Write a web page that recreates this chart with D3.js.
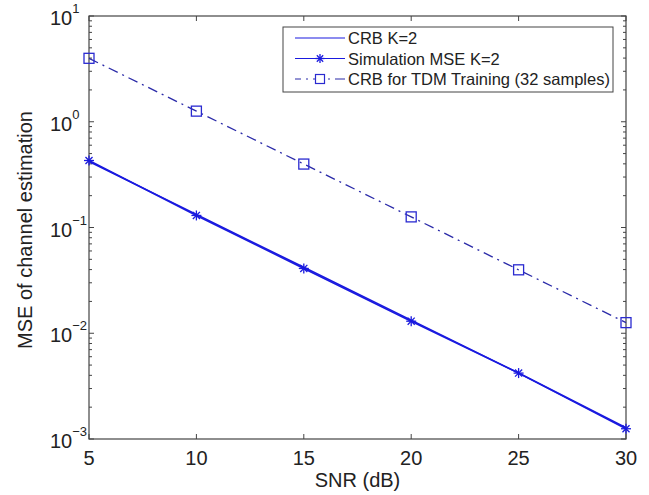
<!DOCTYPE html>
<html><head><meta charset="utf-8">
<script src="https://cdn.jsdelivr.net/npm/d3@7"></script>
<style>body{margin:0;background:#fff;} text{font-family:"Liberation Sans",Arial,sans-serif;}</style>
</head><body>
<svg id="c" width="649" height="495"></svg>
<script>
const snr = [5, 10, 15, 20, 25, 30];
const crbK2 = [0.42, 0.133, 0.042, 0.0133, 0.0042, 0.00128];
const simK2 = [0.43, 0.13, 0.041, 0.013, 0.0042, 0.00125];
const crbTDM = [3.98, 1.26, 0.398, 0.126, 0.0398, 0.0126];
const xTicks = [5, 10, 15, 20, 25, 30];
const yExps = [1, 0, -1, -2, -3];
const legendLabels = ["CRB K=2", "Simulation MSE K=2", "CRB for TDM Training (32 samples)"];

const svg = d3.select("#c");
const m = {l: 89, r: 626, t: 16, b: 439};
const x = d3.scaleLinear().domain([5, 30]).range([m.l, m.r]);
const y = d3.scaleLog().domain([1e-3, 10]).range([m.b, m.t]);
const axisCol = "#444";
const blue = "#1a1adf";

svg.append("rect").attr("x", m.l).attr("y", m.t).attr("width", m.r - m.l).attr("height", m.b - m.t)
  .attr("fill", "none").attr("stroke", axisCol).attr("stroke-width", 1.2);

// x ticks
xTicks.forEach(v => {
  svg.append("line").attr("x1", x(v)).attr("x2", x(v)).attr("y1", m.b).attr("y2", m.b - 5).attr("stroke", axisCol);
  svg.append("line").attr("x1", x(v)).attr("x2", x(v)).attr("y1", m.t).attr("y2", m.t + 5).attr("stroke", axisCol);
  svg.append("text").attr("x", x(v)).attr("y", 465).attr("text-anchor", "middle")
    .attr("font-size", 20).attr("fill", "#222").text(v);
});
// y ticks major + minor
yExps.forEach(e => {
  const v = Math.pow(10, e);
  [m.l, m.r].forEach((xx, i) => {
    const d = i === 0 ? 1 : -1;
    svg.append("line").attr("x1", xx).attr("x2", xx + d * 5).attr("y1", y(v)).attr("y2", y(v)).attr("stroke", axisCol);
    if (e > -3) {
      for (let k = 2; k <= 9; k++) {
        const mv = k * Math.pow(10, e - 1);
        svg.append("line").attr("x1", xx).attr("x2", xx + d * 3).attr("y1", y(mv)).attr("y2", y(mv)).attr("stroke", axisCol);
      }
    }
  });
  const t = svg.append("text").attr("x", 50).attr("y", y(v) + 9)
    .attr("font-size", 20).attr("fill", "#222");
  t.append("tspan").text("10");
  t.append("tspan").attr("dy", -12).attr("font-size", 13).text(e < 0 ? "\u2212" + (-e) : e);
});

// axis labels
svg.append("text").attr("x", (m.l + m.r) / 2).attr("y", 487).attr("text-anchor", "middle")
  .attr("font-size", 20).attr("fill", "#222").text("SNR (dB)");
svg.append("text").attr("transform", `translate(32,230) rotate(-90)`).attr("text-anchor", "middle")
  .attr("font-size", 20).attr("fill", "#222").text("MSE of channel estimation");

const line = d3.line().x(d => x(d[0])).y(d => y(d[1]));
const g = svg.append("g");
g.append("path").attr("d", line(snr.map((s, i) => [s, crbK2[i]]))).attr("fill", "none").attr("stroke", blue).attr("stroke-width", 1.6);
g.append("path").attr("d", line(snr.map((s, i) => [s, simK2[i]]))).attr("fill", "none").attr("stroke", blue).attr("stroke-width", 1.6);
g.append("path").attr("d", line(snr.map((s, i) => [s, crbTDM[i]]))).attr("fill", "none").attr("stroke", "#2a2aa8")
  .attr("stroke-width", 1.3).attr("stroke-dasharray", "10,5,2,5");

function star(gg, cx, cy, r) {
  for (let a = 0; a < 4; a++) {
    const ang = a * Math.PI / 4;
    gg.append("line").attr("x1", cx - r * Math.cos(ang)).attr("y1", cy - r * Math.sin(ang))
      .attr("x2", cx + r * Math.cos(ang)).attr("y2", cy + r * Math.sin(ang)).attr("stroke", blue).attr("stroke-width", 1.3);
  }
}
snr.forEach((s, i) => star(g, x(s), y(simK2[i]), 5));
snr.forEach((s, i) => g.append("rect").attr("x", x(s) - 5).attr("y", y(crbTDM[i]) - 5).attr("width", 10).attr("height", 10)
  .attr("fill", "none").attr("stroke", "#2a2ad0").attr("stroke-width", 1.3));

// legend
const L = {x: 283, y: 27, w: 330, h: 65};
svg.append("rect").attr("x", L.x).attr("y", L.y).attr("width", L.w).attr("height", L.h)
  .attr("fill", "#fff").attr("stroke", axisCol).attr("stroke-width", 1);
legendLabels.forEach((lab, i) => {
  const ly = 38 + i * 20.5;
  const x1 = L.x + 12, x2 = L.x + 62;
  const ln = svg.append("line").attr("x1", x1).attr("x2", x2).attr("y1", ly).attr("y2", ly)
    .attr("stroke", i === 2 ? "#2a2aa8" : blue).attr("stroke-width", 1.2);
  if (i === 2) ln.attr("stroke-dasharray", "10,5,2,5").attr("stroke-dashoffset", 4);
  if (i === 1) star(svg, (x1 + x2) / 2, ly, 4.5);
  if (i === 2) svg.append("rect").attr("x", (x1 + x2) / 2 - 4.5).attr("y", ly - 4.5).attr("width", 9).attr("height", 9)
    .attr("fill", "#fff").attr("stroke", "#2a2ad0").attr("stroke-width", 1.2);
  svg.append("text").attr("x", L.x + 65).attr("y", ly + 6).attr("font-size", 16.5).attr("fill", "#222").text(lab);
});
</script>
</body></html>
